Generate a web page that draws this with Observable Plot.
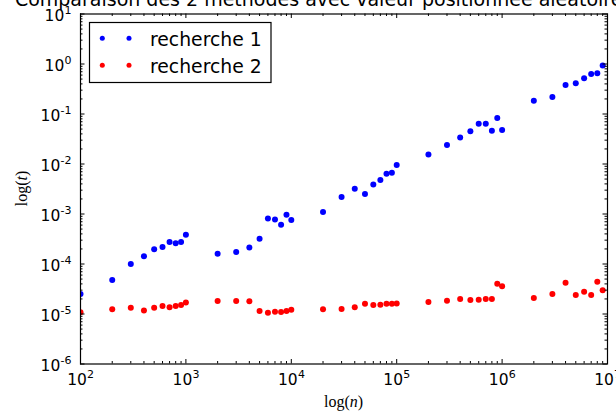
<!DOCTYPE html>
<html>
<head>
<meta charset="utf-8">
<script src="https://cdn.jsdelivr.net/npm/d3@7"></script>
<script src="https://cdn.jsdelivr.net/npm/@observablehq/plot@0.6"></script>
<style>
  html, body { margin: 0; padding: 0; background: white; overflow: hidden; }
  #chart { position: relative; width: 616px; height: 416px; }
</style>
</head>
<body>
<div id="chart"></div>
<script>
// ---- data ----
const n = [100, 200, 300, 400, 500, 600, 700, 800, 900,
           1000, 2000, 3000, 4000, 5000, 6000, 7000, 8000, 9000,
           10000, 20000, 30000, 40000, 50000, 60000, 70000, 80000, 90000,
           100000, 200000, 300000, 400000, 500000, 600000, 700000, 800000, 900000,
           1000000, 2000000, 3000000, 4000000, 5000000, 6000000, 7000000, 8000000, 9000000];
const recherche1 = [2.5e-5, 4.8e-5, 1.0e-4, 1.43e-4, 1.97e-4, 2.2e-4, 2.75e-4, 2.6e-4, 2.75e-4,
                    3.86e-4, 1.6e-4, 1.74e-4, 2.15e-4, 3.2e-4, 8.1e-4, 7.8e-4, 6.1e-4, 9.7e-4,
                    7.6e-4, 1.1e-3, 2.2e-3, 3.2e-3, 2.5e-3, 3.9e-3, 4.8e-3, 6.4e-3, 6.7e-3,
                    9.5e-3, 0.0154, 0.024, 0.034, 0.045, 0.064, 0.064, 0.046, 0.083,
                    0.048, 0.185, 0.22, 0.38, 0.41, 0.52, 0.63, 0.65, 0.93];
const recherche2 = [1.08e-5, 1.24e-5, 1.34e-5, 1.17e-5, 1.34e-5, 1.45e-5, 1.36e-5, 1.45e-5, 1.51e-5,
                    1.69e-5, 1.82e-5, 1.82e-5, 1.8e-5, 1.15e-5, 1.06e-5, 1.11e-5, 1.1e-5, 1.15e-5,
                    1.22e-5, 1.24e-5, 1.26e-5, 1.36e-5, 1.6e-5, 1.51e-5, 1.53e-5, 1.6e-5, 1.6e-5,
                    1.63e-5, 1.74e-5, 1.85e-5, 2.0e-5, 1.9e-5, 1.93e-5, 2.0e-5, 2.0e-5, 4.05e-5,
                    3.6e-5, 2.1e-5, 2.5e-5, 4.2e-5, 2.4e-5, 2.8e-5, 2.4e-5, 4.4e-5, 3.0e-5];
const seriesNames = ["recherche 1", "recherche 2"];
const seriesColors = ["blue", "red"];
const xTickExp = [2, 3, 4, 5, 6, 7];
const yTickExp = [-6, -5, -4, -3, -2, -1, 0, 1];
const titleText = "Comparaison des 2 méthodes avec valeur positionnée aléatoirement";

// ---- derived tables ----
const data1 = n.map((v, i) => ({n: v, t: recherche1[i]}));
const data2 = n.map((v, i) => ({n: v, t: recherche2[i]}));
const xMajor = xTickExp.map(e => Math.pow(10, e));
const yMajor = yTickExp.map(e => Math.pow(10, e));
const isMinor = d => Math.abs(Math.log10(d) - Math.round(Math.log10(d))) > 1e-6;
const xMinor = d3.scaleLog().domain([1e2, 1e7]).ticks().filter(isMinor);
const yMinor = d3.scaleLog().domain([1e-6, 1e1]).ticks().filter(isMinor);

const W = 616, H = 416;
const mL = 80, mR = 9, mT = 13.5, mB = 52.5;
const pw = W - mL - mR, ph = H - mT - mB;
const font = "DejaVu Sans";
const baseFS = 15.5, expFS = 11;
const yPos = yTickExp.filter(e => e >= 0).map(e => ({v: Math.pow(10, e), e}));
const yNeg = yTickExp.filter(e => e < 0).map(e => ({v: Math.pow(10, e), e}));

const svg = Plot.plot({
  width: W, height: H,
  marginLeft: mL, marginRight: mR, marginTop: mT, marginBottom: mB,
  style: {fontFamily: font, background: "white", overflow: "visible"},
  x: {type: "log", domain: [1e2, 1e7], axis: null},
  y: {type: "log", domain: [1e-6, 1e1], axis: null},
  marks: [
    Plot.dot(data1, {x: "n", y: "t", r: 3, fill: seriesColors[0], clip: true}),
    Plot.dot(data2, {x: "n", y: "t", r: 3, fill: seriesColors[1], clip: true}),
    // ticks (inside, all four sides)
    Plot.tickX(xMajor, {x: d => d, insetTop: ph - 4.5, stroke: "black"}),
    Plot.tickX(xMajor, {x: d => d, insetBottom: ph - 4.5, stroke: "black"}),
    Plot.tickX(xMinor, {x: d => d, insetTop: ph - 2.5, stroke: "black"}),
    Plot.tickX(xMinor, {x: d => d, insetBottom: ph - 2.5, stroke: "black"}),
    Plot.tickY(yMajor, {y: d => d, insetRight: pw - 4.5, stroke: "black"}),
    Plot.tickY(yMajor, {y: d => d, insetLeft: pw - 4.5, stroke: "black"}),
    Plot.tickY(yMinor, {y: d => d, insetRight: pw - 2.5, stroke: "black"}),
    Plot.tickY(yMinor, {y: d => d, insetLeft: pw - 2.5, stroke: "black"}),
    Plot.frame({stroke: "black", strokeWidth: 1.2}),
    // x tick labels 10^k
    Plot.text(xMajor, {x: d => d, text: () => "10", frameAnchor: "bottom", lineAnchor: "bottom",
      textAnchor: "end", dx: 6.4, dy: 21, fontSize: baseFS, fill: "black"}),
    Plot.text(xTickExp, {x: e => Math.pow(10, e), text: e => String(e), frameAnchor: "bottom", lineAnchor: "bottom",
      textAnchor: "start", dx: 6.6, dy: 14, fontSize: expFS, fill: "black"}),
    // y tick labels 10^k
    Plot.text(yPos, {y: "v", text: d => String(d.e), frameAnchor: "left", lineAnchor: "bottom",
      textAnchor: "end", dx: -9, dy: 0, fontSize: expFS, fill: "black"}),
    Plot.text(yPos, {y: "v", text: () => "10", frameAnchor: "left", lineAnchor: "bottom",
      textAnchor: "end", dx: -16.2, dy: 6.5, fontSize: baseFS, fill: "black"}),
    Plot.text(yNeg, {y: "v", text: d => String(d.e), frameAnchor: "left", lineAnchor: "bottom",
      textAnchor: "end", dx: -9, dy: 0, fontSize: expFS, fill: "black"}),
    Plot.text(yNeg, {y: "v", text: () => "10", frameAnchor: "left", lineAnchor: "bottom",
      textAnchor: "end", dx: -20.2, dy: 6.5, fontSize: baseFS, fill: "black"})
  ]
});

const s = d3.select(svg);
// title (cut off at top, as in reference)
s.append("text").attr("x", mL + pw / 2).attr("y", 6).attr("text-anchor", "middle")
  .attr("font-family", font).attr("font-size", 19).attr("fill", "black").text(titleText);

// axis labels
const serif = "Liberation Serif";
const xl = s.append("text").attr("x", mL + pw / 2).attr("y", 407).attr("text-anchor", "middle")
  .attr("font-family", serif).attr("font-size", 16).attr("fill", "black");
xl.append("tspan").text("log(");
xl.append("tspan").attr("font-style", "italic").text("n");
xl.append("tspan").text(")");
const yl = s.append("text").attr("transform", `translate(27,${mT + ph / 2}) rotate(-90)`)
  .attr("text-anchor", "middle").attr("font-family", serif).attr("font-size", 16).attr("fill", "black");
yl.append("tspan").text("log(");
yl.append("tspan").attr("font-style", "italic").text("t");
yl.append("tspan").text(")");

// legend
const lg = s.append("g");
lg.append("rect").attr("x", 89.5).attr("y", 22.5).attr("width", 181.5).attr("height", 60)
  .attr("fill", "white").attr("stroke", "black").attr("stroke-width", 1.2);
const rowsY = [38.3, 65.3];
seriesNames.forEach((name, i) => {
  [102.3, 129].forEach(cx => lg.append("circle").attr("cx", cx).attr("cy", rowsY[i]).attr("r", 2.5).attr("fill", seriesColors[i]));
  lg.append("text").attr("x", 150).attr("y", rowsY[i] + 7.2).attr("text-anchor", "start")
    .attr("font-family", font).attr("font-size", 18.8).attr("fill", "black").text(name);
});

document.getElementById("chart").appendChild(svg);
</script>
</body>
</html>
